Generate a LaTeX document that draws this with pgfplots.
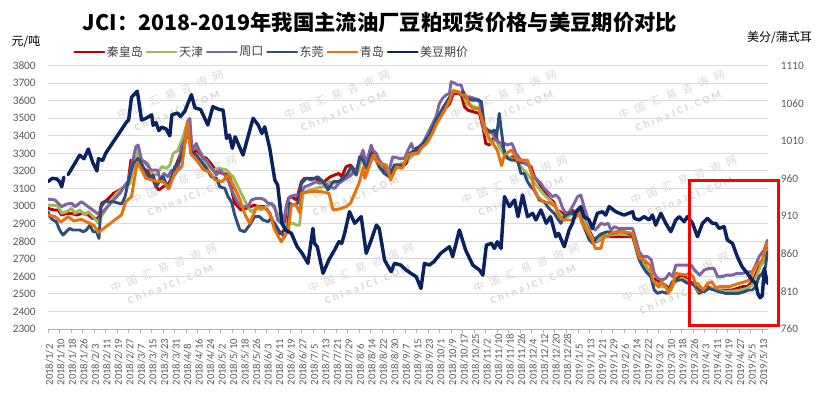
\documentclass[border=0pt]{standalone}
\usepackage{fontspec}
\usepackage{pgfplots}
\pgfplotsset{compat=1.18}
\setmainfont{Carlito}
\newfontfamily\cjk{Noto Sans CJK SC}
\newfontfamily\wmcjk{Noto Sans CJK SC}[LetterSpace=60]
\newfontfamily\wmlatin{Carlito}[LetterSpace=25]
\definecolor{cred}{HTML}{C00000}
\definecolor{cgreen}{HTML}{9BBB59}
\definecolor{cpurple}{HTML}{8064A2}
\definecolor{cblue}{HTML}{2D4E7C}
\definecolor{corange}{HTML}{E8710A}
\definecolor{cnavy}{HTML}{0A2260}
\definecolor{cgrid}{HTML}{D9D9D9}
\definecolor{ctick}{HTML}{595959}
\definecolor{caxis}{HTML}{B0B0B0}
\definecolor{clegend}{HTML}{404040}
\definecolor{cwm}{HTML}{D6D6D6}
\begin{document}
\begin{tikzpicture}
\useasboundingbox (-36bp,-50.25bp) rectangle (575.25bp,246.75bp);
% faint watermarks (one text block each)
\foreach \x/\y in {94/170, 219/170, 344/170, 470/170, 104/106, 228/106, 352/106, 479/106, 89/40, 237/40, 361/40, 473/33}{
  \node[text=cwm, rotate=22, inner sep=0pt, align=center, font=\fontsize{8bp}{13bp}\selectfont] at (\x bp,\y bp) {{\wmcjk 中国汇易咨询网}\\{\wmlatin\bfseries ChinaJCI.COM}};
}
\pgfplotsset{
  /pgf/number format/assume math mode=true,
  /pgf/number format/1000 sep={},
}
\begin{axis}[
  at={(0bp,0bp)}, anchor=south west,
  scale only axis, width=540bp, height=197.5bp,
  xmin=0, xmax=500, ymin=2300, ymax=3800,
  ytick={2300,2400,...,3800},
  xtick={0,8,...,496},
  xticklabels={2018/1/2,2018/1/10,2018/1/18,2018/1/26,2018/2/3,2018/2/11,2018/2/19,2018/2/27,2018/3/7,2018/3/15,2018/3/23,2018/3/31,2018/4/8,2018/4/16,2018/4/24,2018/5/2,2018/5/10,2018/5/18,2018/5/26,2018/6/3,2018/6/11,2018/6/19,2018/6/27,2018/7/5,2018/7/13,2018/7/21,2018/7/29,2018/8/6,2018/8/14,2018/8/22,2018/8/30,2018/9/7,2018/9/15,2018/9/23,2018/10/1,2018/10/9,2018/10/17,2018/10/25,2018/11/2,2018/11/10,2018/11/18,2018/11/26,2018/12/4,2018/12/12,2018/12/20,2018/12/28,2019/1/5,2019/1/13,2019/1/21,2019/1/29,2019/2/6,2019/2/14,2019/2/22,2019/3/2,2019/3/10,2019/3/18,2019/3/26,2019/4/3,2019/4/11,2019/4/19,2019/4/27,2019/5/5,2019/5/13},
  axis x line*=bottom, axis y line*=left,
  x axis line style={draw=caxis, line width=0.75bp, -},
  y axis line style={draw=none},
  xtick align=outside, ytick align=inside,
  major tick length=3bp,
  xtick style={draw=caxis, line width=0.6bp},
  ytick style={draw=none},
  ymajorgrids, grid style={draw=cgrid, line width=0.75bp},
  xticklabel style={rotate=90, anchor=east, text width=39bp, align=left, inner sep=0pt, yshift=-1bp, font=\fontsize{8bp}{9bp}\selectfont, text=ctick},
  yticklabel style={anchor=east, inner sep=0pt, xshift=-9bp, font=\fontsize{8.5bp}{10bp}\selectfont, text=ctick},
  legend columns=6,
  legend style={at={(axis description cs:0.0347,1.052)}, anchor=west, draw=none, fill=none, inner sep=0pt,
    nodes={inner sep=1bp},
    font=\cjk\fontsize{9bp}{10bp}\selectfont, text=clegend,
    /tikz/every even column/.append style={column sep=1bp}},
  legend image code/.code={\draw[#1] (0bp,0bp) -- (22bp,0bp);},
  legend cell align=left,
  every axis plot/.append style={line width=2.2bp, line join=round, line cap=round},
]
% 秦皇岛
\addplot[cred] coordinates {(0,2987)(4,2978)(7,2978)(9.5,2949)(13,2959)(16,2959)(20,2949)(24,2959)(28,2949)(31,2930)(35,2930)(37.3,3016)(41,3035)(45.5,3073)(50,3092)(53,3110)(55.7,3139)(57.6,3262)(59.5,3234)(62.7,3262)(66,3215)(70,3196)(73,3149)(75,3110)(77,3092)(80,3110)(84,3130)(86,3167)(89,3234)(93,3319)(96.2,3433)(98.5,3452)(100,3291)(103,3319)(107.7,3281)(110,3272)(113,3243)(117,3196)(121,3187)(126.2,3177)(128,3073)(129.7,3016)(132,2997)(134,2978)(137.6,2987)(141,2997)(143,3006)(146,2997)(150.5,2997)(154,2959)(156.3,2902)(159.5,2845)(162,2845)(164,2864)(165.5,2997)(167,3044)(169,3054)(172.5,3035)(176,3139)(178,3158)(186,3158)(190,3130)(193,3148)(196,3167)(199,3177)(202,3186)(204,3167)(207,3224)(210,3234)(212,3215)(214,3177)(216.4,3272)(218.7,3300)(221,3234)(224.5,3319)(226.8,3281)(230,3234)(233.5,3206)(237,3167)(240,3215)(244,3224)(248.7,3243)(252,3300)(255.5,3329)(258,3338)(262.6,3376)(267,3443)(270,3490)(274,3538)(279,3585)(281.5,3642)(284.6,3642)(287,3633)(289.2,3566)(291.5,3547)(295,3538)(299.6,3528)(302,3452)(304,3357)(306.5,3348)(308.7,3376)(311,3405)(313.4,3338)(315.8,3338)(319,3272)(322.7,3281)(325,3262)(327,3253)(331.6,3243)(335.4,3224)(337.8,3167)(341.2,3130)(344.6,3082)(348,3044)(351,3025)(353.5,2978)(357.4,2959)(360.8,2959)(364.2,2978)(366.6,2940)(369,2978)(370,2959)(372.2,2921)(375.7,2864)(378,2826)(380.6,2797)(383,2807)(385,2835)(387.3,2826)(406,2826)(408.3,2769)(410.6,2712)(414,2674)(417.5,2617)(419.8,2588)(423,2579)(426.5,2560)(430,2541)(432.5,2522)(434.8,2569)(438.3,2598)(441.8,2607)(444,2579)(446.5,2560)(448.8,2550)(452.2,2503)(455.6,2522)(458,2541)(461.3,2531)(464.8,2522)(475,2522)(478.5,2531)(482.2,2541)(485.6,2541)(487.9,2560)(490.3,2588)(493.8,2655)(497,2683)(499.5,2760)};
\addlegendentry{秦皇岛}
% 天津
\addplot[cgreen] coordinates {(0,3006)(4,3006)(7,3000)(9.5,2959)(12.9,2968)(16.4,2987)(18.7,2959)(22,2978)(25.7,2949)(28,2968)(31.4,2940)(35,2902)(36,2930)(38.4,2959)(43,3016)(47.6,3073)(52.2,3101)(57,3130)(59.2,3206)(62.7,3319)(65,3262)(69.5,3243)(72,3186)(75.4,3177)(79,3225)(82.4,3215)(84.7,3234)(87,3300)(90.4,3319)(93.8,3395)(97.3,3490)(99.6,3319)(103,3338)(106.6,3300)(110,3234)(114.6,3206)(119.3,3215)(123.8,3206)(128.5,3167)(133,3092)(137.6,3016)(141,2968)(144.7,2987)(148,2978)(151.6,2997)(155,3016)(158.6,2968)(162,2921)(165.5,2883)(168,2902)(170.3,2902)(172.5,2892)(174.7,2892)(177,3073)(181.7,3092)(186,3101)(190.8,3110)(195.5,3139)(199,3130)(202.5,3139)(207,3158)(210.5,3196)(215,3186)(217.5,3262)(221,3262)(225.6,3281)(230,3234)(234.6,3215)(238,3186)(241.4,3234)(246,3243)(251,3272)(255,3300)(259,3338)(263,3380)(267,3430)(271,3500)(275,3560)(279,3620)(281.5,3661)(285,3650)(288,3640)(291,3580)(296,3566)(300,3555)(302.5,3443)(305,3400)(308,3357)(311,3380)(314,3330)(317,3290)(321,3275)(325,3260)(329,3220)(333,3180)(337,3140)(341,3100)(345,3060)(349,3030)(352,3000)(355,2960)(359,2930)(363,2950)(367,2960)(370,2960)(373,2900)(376,2850)(379,2800)(382,2805)(386,2830)(390,2835)(396,2840)(406,2835)(408.3,2765)(411,2705)(414,2665)(418,2610)(421,2560)(424,2540)(428,2540)(432,2520)(435,2560)(440,2590)(444,2575)(448,2560)(452,2515)(456,2520)(460,2535)(465,2520)(470,2515)(475,2515)(480,2520)(485,2530)(489,2550)(492,2600)(495,2660)(498,2700)(499.5,2750)};
\addlegendentry{天津}
% 周口
\addplot[cpurple] coordinates {(0,3040)(4.8,3035)(9.5,2997)(12.9,3012)(16.4,3016)(18.7,2997)(23.3,3025)(27.9,2997)(32.6,2968)(36,2950)(40,2985)(45,3030)(50,3073)(53.4,3120)(55.7,3139)(59,3262)(61,3338)(62.6,3348)(65,3262)(67,3253)(71.5,3205)(76,3205)(78,3148)(80.5,3186)(83.4,3167)(85.7,3205)(88,3177)(90.4,3215)(92.7,3338)(95,3376)(97,3481)(98.5,3500)(100,3319)(103,3357)(105.3,3310)(107.6,3272)(110,3262)(113,3224)(117,3177)(119.3,3205)(122.8,3177)(125,3148)(127.4,3092)(129.7,3054)(132,3016)(134.4,2997)(139,2997)(141.3,3035)(144.7,3044)(148,3044)(150.5,3035)(152.8,3016)(155,3016)(157.4,2997)(159.5,2921)(162,2902)(163.2,2895)(165.5,2997)(168,3054)(171.4,3063)(173.5,3060)(176,3073)(178,3110)(181.7,3120)(184,3130)(186,3139)(188.5,3130)(191,3139)(195.5,3110)(199,3101)(202,3130)(205.4,3149)(210.5,3177)(214,3206)(216.4,3262)(218.7,3319)(221,3243)(224.5,3348)(225.6,3319)(228,3300)(230,3262)(233.5,3224)(236,3177)(239.4,3281)(244,3272)(247.6,3272)(250,3319)(252.4,3357)(254.7,3300)(257,3319)(259.4,3338)(261.4,3376)(263.7,3414)(266,3452)(269.5,3509)(271.8,3585)(274,3614)(276.4,3633)(278.8,3642)(280,3709)(282.3,3700)(284.6,3690)(287,3690)(289,3623)(292.6,3623)(296,3614)(299.6,3604)(302,3452)(305.4,3424)(308.7,3414)(311,3376)(314.6,3357)(317,3357)(319,3348)(322.2,3357)(325,3300)(328.4,3262)(331,3243)(333.5,3243)(336,3186)(338.8,3158)(342.3,3129)(344.6,3101)(348,3073)(350.4,3054)(352.7,3063)(355,3044)(357.4,2987)(359.7,2959)(362,2968)(365.5,3016)(367.8,3054)(370,3063)(372.2,2997)(374.5,2940)(377.6,2883)(379.9,2864)(382.2,2883)(384,2902)(386.5,2895)(389,2902)(391,2864)(393.4,2883)(396,2873)(406,2873)(408.3,2807)(410.6,2740)(413,2712)(416.5,2712)(419,2693)(421,2617)(423.3,2588)(426.5,2579)(429,2588)(431.4,2617)(433.7,2598)(436,2664)(446.5,2664)(449,2636)(452.5,2607)(455.7,2636)(459,2645)(462.5,2645)(465,2598)(468.5,2598)(471,2607)(475,2607)(478.5,2617)(482.2,2617)(485.6,2626)(489.1,2626)(491.4,2664)(493.8,2712)(497.3,2750)(499.5,2805)};
\addlegendentry{周口}
% 东莞
\addplot[cblue] coordinates {(0,2968)(1.2,2940)(3.5,2921)(5.8,2911)(8.1,2864)(10.4,2835)(12.7,2854)(15,2873)(17.3,2864)(22,2864)(24.4,2854)(26.7,2864)(29.1,2892)(31.4,2854)(33.7,2854)(35.4,2816)(36.8,2997)(39.5,3025)(45.4,3025)(51.2,3012)(53.5,3054)(55.7,3139)(59.2,3243)(62.7,3272)(65,3243)(68.4,3186)(71,3158)(73,3177)(75.4,3110)(77.7,3149)(80,3167)(83.4,3101)(85.7,3158)(88,3225)(90.4,3243)(92.7,3281)(95,3357)(97.3,3433)(99.6,3300)(103,3291)(106.6,3253)(110,3215)(113.4,3167)(117,3158)(119.3,3110)(122.8,3101)(125,3054)(127.4,3025)(129.7,2949)(133.2,2864)(136.6,2854)(140,2892)(143.5,2940)(147,2940)(149.3,2921)(152.9,2911)(155,2930)(157.4,2902)(160.9,2854)(164.3,2826)(166.5,2864)(167.8,3016)(170,3006)(173.5,3016)(176,3130)(179.5,3158)(183,3149)(185,3158)(187.3,3167)(191,3139)(194.4,3092)(198,3139)(201.5,3139)(204.8,3158)(208,3186)(210.5,3224)(214,3177)(216.4,3281)(218.7,3262)(221,3215)(224.5,3300)(228,3262)(230,3224)(233.5,3186)(237,3167)(240.5,3234)(247.6,3234)(251,3300)(255.7,3319)(260.3,3357)(265,3405)(269.5,3490)(274.1,3557)(277.6,3604)(281.5,3652)(285,3642)(287.3,3642)(288.4,3652)(290.7,3614)(294.2,3604)(297.6,3604)(301,3595)(303,3452)(305.5,3433)(308,3424)(310,3433)(311.5,3395)(313.4,3528)(314.5,3452)(316.9,3300)(319.2,3272)(322,3262)(326,3262)(328.4,3186)(330.7,3186)(333,3139)(335.3,3110)(337.6,3092)(341.2,3035)(344.6,3025)(346.9,2997)(349,2978)(351.5,2959)(353.8,2930)(356.2,2902)(358.5,2940)(362,2959)(364.3,2959)(366.6,2968)(368.9,2959)(371.2,2902)(373.6,2854)(375.9,2807)(378.3,2788)(380.6,2816)(382.9,2835)(385,2845)(388.6,2854)(392,2845)(395.5,2854)(400,2854)(406,2835)(408.3,2759)(410.6,2693)(413,2655)(415.3,2626)(418.6,2598)(421,2522)(423.3,2503)(426.5,2512)(430,2503)(433.5,2569)(437,2579)(440.6,2579)(444,2560)(446.4,2569)(448.7,2550)(452.2,2522)(455.6,2512)(459,2531)(462.5,2522)(466,2512)(470.6,2503)(479.6,2503)(483.3,2512)(486.7,2522)(489.1,2522)(491.4,2541)(493.8,2598)(496,2617)(498.3,2655)(499.5,2740)};
\addlegendentry{东莞}
% 青岛
\addplot[corange] coordinates {(0,2950)(5,2940)(9,2910)(14,2940)(18,2915)(23,2925)(28,2905)(32,2890)(35,2850)(51,2950)(54,3025)(58,3054)(62,3250)(65,3206)(68,3158)(72,3149)(76,3140)(80,3140)(84,3101)(88,3186)(93,3225)(97,3481)(99,3300)(104,3253)(108,3206)(112,3196)(116,3149)(121,3140)(125,3177)(128,3130)(133,3044)(137,2949)(140,2902)(142,2940)(145,2997)(150,2990)(152,2978)(155,2940)(157,2873)(160,2826)(162,2797)(165,2840)(167,2864)(169,3006)(172,3010)(175,2960)(176,3073)(182,3082)(190,3082)(195,3073)(196,3044)(198,2978)(203,2985)(207,2997)(210,3016)(212,3054)(216,3130)(219,3224)(220,3158)(226,3291)(228,3262)(230,3243)(235,3234)(238,3149)(242,3224)(246,3215)(250,3291)(254,3300)(257,3300)(259,3329)(263,3357)(267,3414)(270,3471)(275,3538)(279,3604)(281,3652)(285,3652)(287,3633)(290,3633)(293,3576)(295,3557)(299,3557)(302,3481)(304,3433)(306,3395)(309,3357)(312,3319)(315,3230)(317,3291)(320,3310)(322,3319)(324,3291)(326,3262)(333,3262)(336,3186)(337,3110)(340,3054)(344,3025)(349,3016)(352,3000)(355,2940)(358,2921)(364,2921)(367,2940)(369,2959)(371,2902)(374,2864)(378,2807)(380,2759)(384,2759)(386,2826)(389,2826)(391,2845)(394,2854)(400,2854)(406,2845)(408,2778)(411,2702)(414,2693)(418,2664)(420,2579)(422,2560)(424,2541)(426,2569)(429,2541)(431,2503)(434,2560)(436,2617)(443,2607)(445,2617)(448,2598)(450,2550)(451,2560)(455,2522)(458,2560)(461,2569)(464,2531)(466,2541)(473,2541)(476,2550)(480,2560)(484,2569)(487,2579)(489,2617)(491,2655)(494,2674)(496,2693)(498,2750)(499.5,2790)};
\addlegendentry{青岛}
\addlegendimage{cnavy, line width=2.2bp}
\addlegendentry{美豆期价}
\end{axis}
\begin{axis}[
  at={(0bp,0bp)}, anchor=south west,
  scale only axis, width=540bp, height=197.5bp,
  xmin=0, xmax=500, ymin=760, ymax=1110,
  ytick={760,810,...,1110},
  axis y line*=right, axis x line=none,
  y axis line style={draw=none}, ytick style={draw=none},
  ytick align=inside,
  yticklabel style={anchor=west, inner sep=0pt, xshift=9.5bp, font=\fontsize{8.5bp}{10bp}\selectfont, text=ctick},
  unbounded coords=jump,
]
\addplot[cnavy, line width=2.6bp, line join=round, line cap=round] coordinates {(0,956)(3,960.2)(6,959.5)(8,956)(9.5,949)(11,961.8)(12.5,nan)(14,965.3)(22,991)(25,986.3)(28,999.2)(31,981.7)(34,970)(35,986.3)(38,984)(40,993.3)(54.6,1035.3)(56,1037.7)(58,1068)(62,1076.2)(65,1037.7)(68,1040)(72,1044.7)(73,1030.7)(75,1034.2)(77,1023.7)(79,1028.3)(82,1026)(84.6,1016.7)(86,1044.7)(90,1047)(92,1042.3)(95,1049.3)(99.6,1071.5)(102,1054)(106,1051.7)(111,1031.1)(114.5,1055.4)(119,1051.7)(121.6,1051)(124,1013.4)(126,1017.8)(128,1000.1)(130,1015.5)(135.4,991.2)(142.4,1040)(146,1031.1)(148.5,1019.9)(150.5,1028.8)(154,1000.1)(157.5,958.1)(159.5,951.3)(162.5,900.5)(165,891.6)(169,887.2)(173,869.4)(176.5,860.6)(180.5,847.3)(184,893.7)(185,873.9)(187,869.4)(191,834)(195,851.7)(199,865)(202,876)(204,873.9)(206,887.2)(209.4,915.9)(213,900.5)(217.5,909.3)(221,860.6)(224.5,878.3)(228,898.1)(230,893.7)(233.7,851.7)(238.3,836.1)(240.6,847.3)(245,844.9)(248.7,838.4)(252,834)(255.7,829.5)(259,813.9)(261.4,847.3)(264.7,844.9)(268,849.4)(272.7,860.6)(278.8,869.4)(281,856.1)(285.7,891.6)(290,865)(295,844.9)(299.6,838.4)(302,831.6)(304.4,871.5)(308,873.9)(310,867.1)(312,876)(314.6,867.1)(317,935.9)(320.5,922.6)(324,931.5)(326.4,909.3)(329.6,938)(333,909.3)(336.6,913.8)(338.8,904.9)(342.3,918.2)(346,900.5)(349,909.3)(352.7,882.7)(354.6,887.2)(358.5,869.4)(361.9,891.6)(364.2,900.5)(366.6,915.9)(370,922.6)(372.2,909.3)(375.7,904.9)(378,893.7)(381.5,913.8)(385,915.9)(387.3,911.4)(389.7,922.6)(394.3,915.9)(400,911.4)(406,915.9)(407.2,907)(410.6,904.9)(414,909.3)(417.5,904.9)(419.8,911.4)(422,898.1)(425.6,913.8)(429,900.5)(432.5,889.3)(436,904.9)(438.3,909.3)(441.8,902.6)(444,909.3)(447.6,900.5)(451,882.7)(454.5,900.5)(458,907)(461.4,900.5)(463.7,900.5)(466,893.7)(469.5,896)(471.8,878.3)(475.3,873.9)(478.7,856.1)(482,842.8)(485.6,834)(489,825.1)(491.4,820.7)(493,806.7)(494.5,801.5)(496,804.3)(497.5,840.7)(499.5,820.7)};
\end{axis}
% highlight box
\draw[red, line width=2bp] (481bp,2.8bp) rectangle (548bp,111.2bp);
% titles and unit labels
\node[font=\cjk\bfseries\fontsize{16bp}{18bp}\selectfont] at (249bp,230.25bp) {JCI：2018-2019年我国主流油厂豆粕现货价格与美豆期价对比};
\node[font=\cjk\fontsize{9bp}{10bp}\selectfont, text=black] at (-16.5bp,215.25bp) {元/吨};
\node[font=\cjk\fontsize{9bp}{10bp}\selectfont, text=black] at (548.6bp,218.25bp) {美分/蒲式耳};
\end{tikzpicture}
\end{document}
